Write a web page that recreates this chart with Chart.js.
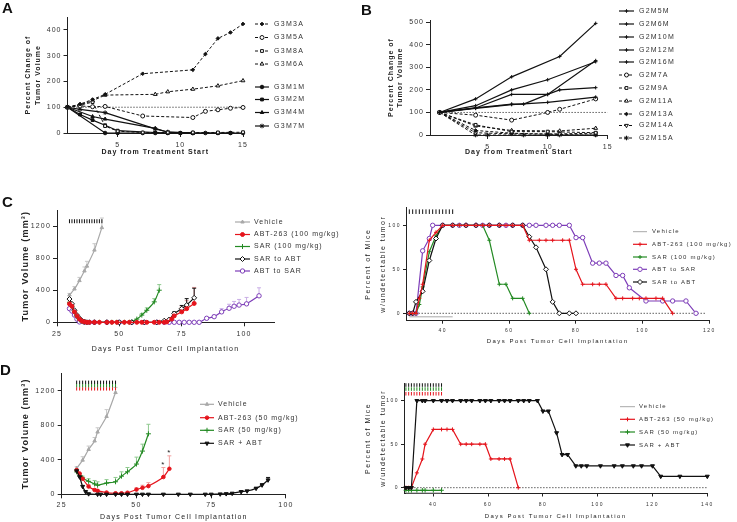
<!DOCTYPE html>
<html>
<head>
<meta charset="utf-8">
<script src="https://cdn.jsdelivr.net/npm/chart.js@4.4.1/dist/chart.umd.min.js"></script>
<style>
  body { margin: 0; background: #fff; }
  #page { position: relative; width: 737px; height: 522px; overflow: hidden; font-family: "Liberation Sans", Arial, sans-serif; }
  #page canvas { position: absolute; left: 0; top: 0; }
  .tag { position: absolute; font-weight: bold; font-size: 15px; line-height: 15px; color: #111; }
</style>
</head>
<body>
<div id="page">
  <canvas id="chartA" width="737" height="522"></canvas>
  <canvas id="chartB" width="737" height="522"></canvas>
  <canvas id="chartCL" width="737" height="522"></canvas>
  <canvas id="chartCR" width="737" height="522"></canvas>
  <canvas id="chartDL" width="737" height="522"></canvas>
  <canvas id="chartDR" width="737" height="522"></canvas>
  <div class="tag" style="left:2px;top:0px">A</div>
  <div class="tag" style="left:361px;top:2px">B</div>
  <div class="tag" style="left:2px;top:194px">C</div>
  <div class="tag" style="left:0px;top:362px">D</div>
</div>
<script>
const F = "'Liberation Sans', Arial, Helvetica, sans-serif";
const GRAY = '#a8a8a8', RED = '#e5141c', GREEN = '#238a23', PURPLE = '#7d3db8', BLACK = '#111';

// ---- panel A (G3 mice, % change) ----
const aDays3A = [1, 2, 3, 4, 7, 11, 12, 13, 14, 15];
const aVals3A = [100, 112, 130, 150, 230, 245, 306, 367, 390, 423];
const aDays5A = [1, 2, 3, 4, 7, 11, 12, 13, 14, 15];
const aVals5A = [100, 105, 102, 103, 66, 60, 84, 90, 96, 99];
const aDays8A = [1, 2, 3, 4, 5, 7, 9, 11, 13, 15];
const aVals8A = [100, 108, 120, 27, 7, 2, 2, 2, 2, 3];
const aDays6A = [1, 2, 3, 4, 8, 9, 11, 13, 15];
const aVals6A = [100, 110, 125, 147, 150, 160, 170, 183, 203];
const aDays1M = [1, 4, 5, 7, 8, 9, 10, 11, 12, 13, 14, 15];
const aVals1M = [100, 0, 0, 0, 0, 0, 0, 0, 0, 0, 0, 0];
const aDays2M = [1, 2, 3, 4, 5, 8, 9, 10, 11, 13, 14];
const aVals2M = [100, 72, 50, 30, 9, 2, 0, 0, 0, 0, 0];
const aDays4M = [1, 3, 4, 8, 9, 11];
const aVals4M = [100, 64, 54, 18, 3, 0];
const aDays7M = [1, 2, 4, 8, 9, 11];
const aVals7M = [100, 92, 79, 16, 4, 0];

// ---- panel B (G2 mice, % change) ----
const bDays5M = [1, 4, 7, 11, 14];        const bVals5M = [100, 160, 258, 348, 495];
const bDays6M = [1, 4, 7, 10, 14];        const bVals6M = [100, 130, 200, 245, 325];
const bDays10M = [1, 4, 7, 10, 11, 14];   const bVals10M = [100, 120, 180, 180, 200, 210];
const bDays12M = [1, 4, 7, 8, 10, 14];    const bVals12M = [100, 120, 137, 137, 180, 330];
const bDays16M = [1, 4, 7, 10, 14];       const bVals16M = [100, 118, 135, 145, 168];
const bDays7A = [1, 4, 7, 10, 11, 14];    const bVals7A = [100, 88, 66, 100, 114, 160];
const bDays9A = [1, 4, 7, 10, 14];        const bVals9A = [100, 45, 15, 15, 10];
const bDays11A = [1, 4, 7, 11, 14];       const bVals11A = [100, 40, 20, 18, 30];
const bDays13A = [1, 4, 7, 10, 14];       const bVals13A = [100, 20, 8, 3, 0];
const bDays14A = [1, 4, 7, 11, 14];       const bVals14A = [100, 10, 5, 5, 8];
const bDays15A = [1, 4, 5, 8, 10, 11, 14]; const bVals15A = [100, 0, 0, 0, 0, 0, 0];

const doseDays = [30, 31, 32, 33, 34, 35, 36, 37, 38, 39, 40, 41, 42, 43];

// ---- panel C left (tumor volume, 100 mg/kg) ----
const cVehDays = [30, 32, 34, 36, 37, 40, 43];
const cVehVals = [340, 415, 520, 640, 700, 900, 1180];
const cVehErr = [20, 30, 40, 50, 60, 80, 120];
const cAbtDays = [30, 31, 32, 33, 34, 35, 36, 37, 38, 40, 42, 45, 47, 49, 52, 54, 57, 59, 61, 64, 66, 68, 69, 71, 72, 75, 77, 80];
const cAbtVals = [230, 200, 130, 80, 40, 15, 5, 0, 0, 0, 0, 0, 0, 0, 0, 0, 0, 0, 0, 0, 0, 0, 5, 40, 80, 130, 170, 235];
const cAbtErr = [0, 0, 0, 0, 0, 0, 0, 0, 0, 0, 0, 0, 0, 0, 0, 0, 0, 0, 0, 0, 0, 0, 0, 20, 40, 60, 100, 200];
const cSarDays = [30, 31, 32, 33, 34, 35, 36, 38, 40, 42, 45, 47, 49, 52, 54, 55, 57, 59, 61, 64, 66];
const cSarVals = [250, 200, 130, 70, 30, 10, 0, 0, 0, 0, 0, 0, 0, 0, 0, 5, 40, 90, 150, 255, 400];
const cSarErr = [0, 0, 0, 0, 0, 0, 0, 0, 0, 0, 0, 0, 0, 0, 0, 0, 0, 20, 30, 40, 70];
const cS2aDays = [30, 31, 32, 33, 34, 35, 36, 37, 40, 45, 50, 55, 60, 65, 68, 70, 72, 75, 77, 80];
const cS2aVals = [290, 230, 150, 90, 50, 20, 10, 0, 0, 0, 0, 0, 0, 0, 20, 35, 110, 170, 215, 305];
const cS2aErr = [0, 0, 0, 0, 0, 0, 0, 0, 0, 0, 0, 0, 0, 0, 0, 0, 20, 40, 80, 120];
const cA2sDays = [30, 31, 32, 33, 34, 36, 38, 40, 45, 50, 55, 60, 65, 68, 70, 72, 74, 76, 78, 80, 82, 85, 88, 91, 94, 96, 98, 101, 106];
const cA2sVals = [170, 140, 90, 40, 5, 0, 0, 0, 0, 0, 0, 0, 0, 0, 0, 0, 0, 0, 0, 0, 0, 50, 70, 130, 175, 200, 215, 230, 330];
const cA2sErr = [0, 0, 0, 0, 0, 0, 0, 0, 0, 0, 0, 0, 0, 0, 0, 0, 0, 0, 0, 0, 0, 10, 20, 40, 50, 60, 70, 80, 100];

// ---- panel C right (% mice with undetectable tumor) ----
const crVehDays = [30, 43];  const crVehVals = [-4, -4];
const crAbtDays = [30, 31, 32, 33, 34, 36, 38, 40, 43, 45, 47, 50, 52, 54, 57, 59, 61, 64, 66, 69, 71, 73, 76, 78, 80, 82, 85, 87, 89, 92, 94, 97, 99, 101, 104, 106, 109];
const crAbtVals = [0, 0, 0, 17, 33, 83, 92, 100, 100, 100, 100, 100, 100, 100, 100, 100, 100, 100, 83, 83, 83, 83, 83, 83, 50, 33, 33, 33, 33, 17, 17, 17, 17, 17, 17, 17, 0];
const crSarDays = [30, 31, 32, 33, 34, 36, 38, 40, 43, 45, 47, 50, 52, 54, 57, 59, 61, 64, 66];
const crSarVals = [0, 0, 0, 10, 30, 70, 88, 100, 100, 100, 100, 100, 100, 83, 33, 33, 17, 17, 0];
const crA2sDays = [30, 31, 32, 34, 36, 37, 40, 43, 45, 47, 50, 52, 54, 57, 59, 61, 64, 66, 68, 71, 73, 75, 78, 80, 82, 85, 87, 89, 92, 94, 96, 101, 106, 109, 113, 116];
const crA2sVals = [0, 0, 0, 71, 85, 100, 100, 100, 100, 100, 100, 100, 100, 100, 100, 100, 100, 100, 100, 100, 100, 100, 100, 86, 86, 57, 57, 57, 43, 43, 29, 14, 14, 14, 14, 0];
const crS2aDays = [30, 31, 32, 34, 36, 38, 40, 43, 47, 50, 54, 57, 61, 64, 66, 68, 71, 73, 75, 78, 80];
const crS2aVals = [0, 0, 13, 25, 60, 85, 100, 100, 100, 100, 100, 100, 100, 100, 87, 75, 50, 13, 0, 0, 0];

// ---- panel D left (tumor volume, 50 mg/kg) ----
const dVehDays = [30, 32, 34, 36, 37, 40, 43];
const dVehVals = [300, 395, 518, 617, 720, 900, 1177];
const dVehErr = [20, 40, 40, 40, 50, 80, 60];
const dAbtDays = [30, 31, 32, 34, 36, 37, 40, 43, 45, 47, 50, 52, 54, 59, 61];
const dAbtVals = [280, 240, 180, 90, 50, 40, 20, 12, 12, 18, 55, 75, 95, 200, 295];
const dAbtErr = [0, 0, 0, 20, 15, 15, 10, 10, 10, 10, 20, 30, 40, 110, 150];
const dSarDays = [30, 31, 32, 34, 36, 37, 40, 43, 45, 47, 50, 52, 54];
const dSarVals = [260, 220, 190, 150, 120, 105, 130, 145, 210, 260, 350, 500, 700];
const dSarErr = [20, 20, 20, 30, 40, 40, 40, 50, 50, 50, 80, 80, 110];
const dComboDays = [30, 31, 32, 33, 34, 37, 38, 40, 43, 45, 47, 50, 52, 54, 59, 64, 68, 73, 75, 78, 80, 82, 85, 87, 90, 92, 94];
const dComboVals = [270, 200, 90, 30, 5, 0, 0, 0, 0, 0, 0, 0, 0, 0, 0, 0, 0, 0, 0, 3, 6, 11, 30, 38, 69, 107, 165];
const dComboErr = [0, 0, 0, 0, 0, 0, 0, 0, 0, 0, 0, 0, 0, 0, 0, 0, 0, 0, 0, 0, 0, 0, 0, 0, 10, 15, 30];

// ---- panel D right (% mice with undetectable tumor) ----
const drVehDays = [30, 43];  const drVehVals = [-6, -6];
const drAbtDays = [30, 31, 32, 34, 36, 37, 40, 43, 45, 47, 50, 52, 54, 57, 59, 61, 64, 66, 68, 71];
const drAbtVals = [0, 0, 0, 17, 33, 50, 67, 67, 67, 67, 50, 50, 50, 50, 50, 33, 33, 33, 33, 0];
const drSarDays = [30, 31, 32, 34, 36, 37, 40, 43];
const drSarVals = [-3, -3, -3, -3, -3, -3, -3, -3];
const drComboDays = [30, 31, 32, 34, 36, 37, 40, 43, 45, 47, 50, 52, 54, 57, 59, 61, 64, 66, 68, 71, 73, 75, 78, 80, 82, 85, 87, 89, 92, 94, 96, 101, 106, 109, 113, 116, 120, 123, 130, 140];
const drComboVals = [0, 0, 0, 100, 100, 100, 100, 100, 100, 100, 100, 100, 100, 100, 100, 100, 100, 100, 100, 100, 100, 100, 100, 88, 88, 63, 38, 38, 25, 25, 25, 25, 25, 25, 25, 25, 25, 13, 13, 13];

// ---------------- plugins ----------------
const spacingPlugin = {
  id: 'spacing',
  beforeLayout(chart, args, opts) { chart.ctx.letterSpacing = opts.ls || '0px'; },
  beforeDraw(chart, args, opts) { chart.ctx.letterSpacing = opts.ls || '0px'; }
};

const errPlugin = {
  id: 'errbars',
  beforeDatasetsDraw(chart) {
    const ctx = chart.ctx, xs = chart.scales.x, ys = chart.scales.y;
    chart.data.datasets.forEach(ds => {
      if (!ds.err) return;
      ctx.save();
      ctx.strokeStyle = ds.errColor || ds.borderColor;
      ctx.lineWidth = 1;
      ds.data.forEach((p, i) => {
        const e = ds.err[i];
        if (!e) return;
        const x = xs.getPixelForValue(p.x);
        const y0 = ys.getPixelForValue(p.y);
        const y1 = ys.getPixelForValue(p.y + e);
        ctx.beginPath();
        ctx.moveTo(x, y0); ctx.lineTo(x, y1);
        ctx.moveTo(x - 2, y1); ctx.lineTo(x + 2, y1);
        ctx.stroke();
        if (ds.stars && ds.stars.includes(i)) {
          ctx.font = '8px ' + F;
          ctx.fillStyle = '#222';
          ctx.textAlign = 'center';
          ctx.fillText('*', x, y1 - 1);
        }
      });
      ctx.restore();
    });
  }
};

const legendPlugin = {
  id: 'sideLegend',
  afterDraw(chart, args, opts) {
    if (!opts || !opts.ys) return;
    const ctx = chart.ctx;
    chart.data.datasets.forEach(ds => {
      if (ds.leg === undefined) return;
      const y = opts.ys[ds.leg];
      ctx.save();
      ctx.strokeStyle = ds.borderColor;
      ctx.lineWidth = ds.borderWidth;
      ctx.setLineDash(ds.borderDash || []);
      ctx.beginPath();
      ctx.moveTo(opts.x0, y); ctx.lineTo(opts.x1, y);
      ctx.stroke();
      ctx.setLineDash([]);
      if (ds.pointRadius > 0) {
        ctx.fillStyle = ds.pointBackgroundColor;
        ctx.strokeStyle = ds.pointBorderColor;
        ctx.lineWidth = 1;
        Chart.helpers.drawPoint(ctx, { pointStyle: ds.pointStyle, radius: ds.pointRadius, rotation: ds.pointRotation || 0, borderWidth: 1 }, (opts.x0 + opts.x1) / 2, y);
      }
      ctx.fillStyle = '#333';
      ctx.font = opts.font;
      ctx.letterSpacing = opts.ls;
      ctx.textBaseline = 'middle';
      ctx.textAlign = 'left';
      ctx.fillText(ds.label, opts.tx, y);
      ctx.restore();
    });
  }
};

Chart.register(spacingPlugin, errPlugin, legendPlugin);

// ---------------- helpers ----------------
function series(label, days, vals, st) {
  st = st || {};
  const c = st.color || BLACK;
  const ds = {
    label: label,
    data: days.map((d, i) => ({ x: d, y: vals[i] })),
    borderColor: c,
    pointBorderColor: c,
    pointBackgroundColor: st.open ? '#fff' : c,
    borderWidth: 1,
    pointRadius: 2,
    pointBorderWidth: 1,
    pointStyle: 'circle',
    tension: 0,
    clip: false
  };
  return Object.assign(ds, st);
}

function doses(level, color, r) {
  return series('', doseDays, doseDays.map(() => level), { color: color, showLine: false, pointStyle: 'line', pointRotation: 90, pointRadius: r, order: 9 });
}

function dotted(x0, x1, y) {
  return series('', [x0, x1], [y, y], { pointRadius: 0, borderDash: [1, 2], borderWidth: 1, order: 10 });
}

function frame(p) {
  const tick = { family: F, size: p.tf };
  return {
    responsive: false, animation: false, events: [],
    layout: { padding: { left: p.l - p.yW, top: p.t, right: 737 - p.r, bottom: 522 - p.b - p.xH } },
    plugins: { legend: { display: false }, tooltip: { enabled: false }, sideLegend: p.legend, spacing: { ls: p.ls } },
    scales: {
      x: {
        type: 'linear', min: p.xmin, max: p.xmax,
        afterFit: s => { s.height = p.xH; },
        afterBuildTicks: s => { s.ticks = p.xt.map(v => ({ value: v })); },
        grid: { drawOnChartArea: false, tickLength: p.tl, color: '#222' },
        border: { color: '#222', width: 1 },
        ticks: { font: tick, color: '#333', padding: p.xPad, maxRotation: 0, autoSkip: false, callback: v => String(v) },
        title: { display: true, text: p.xTitle, color: '#222', font: p.xFont, padding: { top: 0, bottom: 1 } }
      },
      y: {
        type: 'linear', min: p.ymin, max: p.ymax,
        afterFit: s => { s.width = p.yW; },
        afterBuildTicks: s => { s.ticks = p.yt.map(v => ({ value: v })); },
        grid: { drawOnChartArea: false, tickLength: p.tl, color: '#222' },
        border: { color: '#222', width: 1 },
        ticks: { font: tick, color: '#333', padding: p.yPad, autoSkip: false, callback: v => String(v) },
        title: { display: true, text: p.yTitle, color: '#222', font: p.yFont, padding: { top: 1, bottom: 0 } }
      }
    }
  };
}

const DASH = [3, 2];

// ---------------- A ----------------
new Chart(document.getElementById('chartA'), {
  type: 'line',
  data: { datasets: [
    series('G3M3A', aDays3A, aVals3A, { borderDash: DASH, pointStyle: 'rectRot', pointRadius: 1.8, leg: 0 }),
    series('G3M5A', aDays5A, aVals5A, { borderDash: DASH, open: true, pointRadius: 2, leg: 1 }),
    series('G3M8A', aDays8A, aVals8A, { borderDash: DASH, open: true, pointStyle: 'rect', pointRadius: 2, leg: 2 }),
    series('G3M6A', aDays6A, aVals6A, { borderDash: DASH, open: true, pointStyle: 'triangle', pointRadius: 2.2, leg: 3 }),
    series('G3M1M', aDays1M, aVals1M, { pointRadius: 1.8, borderWidth: 1.2, leg: 4 }),
    series('G3M2M', aDays2M, aVals2M, { pointStyle: 'rect', pointRadius: 2, borderWidth: 1.2, leg: 5 }),
    series('G3M4M', aDays4M, aVals4M, { pointStyle: 'triangle', pointRadius: 2, borderWidth: 1.2, leg: 6 }),
    series('G3M7M', aDays7M, aVals7M, { pointStyle: 'star', pointRadius: 2.3, borderWidth: 1.2, leg: 7 }),
    dotted(1, 15, 100)
  ] },
  options: frame({
    l: 67.5, t: 17, r: 243, b: 133, yW: 45.5, xH: 24,
    xmin: 1, xmax: 15, ymin: 0, ymax: 450, xt: [5, 10, 15], yt: [0, 100, 200, 300, 400],
    tf: 7, tl: 4, xPad: 4, yPad: 2, ls: '1px',
    xTitle: 'Day from Treatment Start', xFont: { family: F, size: 7, weight: 'bold' },
    yTitle: ['Percent Change of', 'Tumor Volume'], yFont: { family: F, size: 7, weight: 'bold', lineHeight: '10px' },
    legend: { x0: 255, x1: 269, tx: 274, ys: [24, 37.5, 51, 64, 87, 99.5, 112.5, 126], font: '7px ' + F, ls: '1.3px' }
  })
});

// ---------------- B ----------------
new Chart(document.getElementById('chartB'), {
  type: 'line',
  data: { datasets: [
    series('G2M5M', bDays5M, bVals5M, { pointStyle: 'cross', pointRadius: 1.8, borderWidth: 1.2, leg: 0 }),
    series('G2M6M', bDays6M, bVals6M, { pointStyle: 'cross', pointRadius: 1.8, borderWidth: 1.2, leg: 1 }),
    series('G2M10M', bDays10M, bVals10M, { pointStyle: 'cross', pointRadius: 1.8, borderWidth: 1.2, leg: 2 }),
    series('G2M12M', bDays12M, bVals12M, { pointStyle: 'cross', pointRadius: 1.8, borderWidth: 1.2, leg: 3 }),
    series('G2M16M', bDays16M, bVals16M, { pointStyle: 'cross', pointRadius: 1.8, borderWidth: 1.2, leg: 4 }),
    series('G2M7A', bDays7A, bVals7A, { borderDash: DASH, open: true, pointRadius: 2, leg: 5 }),
    series('G2M9A', bDays9A, bVals9A, { borderDash: DASH, open: true, pointStyle: 'rect', pointRadius: 2, leg: 6 }),
    series('G2M11A', bDays11A, bVals11A, { borderDash: DASH, open: true, pointStyle: 'triangle', pointRadius: 2.2, leg: 7 }),
    series('G2M13A', bDays13A, bVals13A, { borderDash: DASH, pointStyle: 'rectRot', pointRadius: 1.8, leg: 8 }),
    series('G2M14A', bDays14A, bVals14A, { borderDash: DASH, open: true, pointStyle: 'triangle', pointRotation: 180, pointRadius: 2.2, leg: 9 }),
    series('G2M15A', bDays15A, bVals15A, { borderDash: DASH, pointStyle: 'star', pointRadius: 2.3, leg: 10 }),
    dotted(1, 15, 100)
  ] },
  options: frame({
    l: 430, t: 20, r: 607.7, b: 135, yW: 44, xH: 22,
    xmin: 0.2, xmax: 15, ymin: 0, ymax: 510, xt: [5, 10, 15], yt: [0, 100, 200, 300, 400, 500],
    tf: 7, tl: 4, xPad: 4, yPad: 2, ls: '1px',
    xTitle: 'Day from Treatment Start', xFont: { family: F, size: 7, weight: 'bold' },
    yTitle: ['Percent Change of', 'Tumor Volume'], yFont: { family: F, size: 7, weight: 'bold', lineHeight: '9px' },
    legend: { x0: 619, x1: 634, tx: 639, ys: [11, 24, 37, 50, 62, 75, 88, 101, 114, 125.5, 138], font: '7px ' + F, ls: '1.2px' }
  })
});

// ---------------- C left ----------------
new Chart(document.getElementById('chartCL'), {
  type: 'line',
  data: { datasets: [
    series('ABT-263 (100 mg/kg)', cAbtDays, cAbtVals, { color: RED, err: cAbtErr, errColor: '#f2a0a0', pointRadius: 2, borderWidth: 1.2, tension: 0.2, leg: 1, order: 1 }),
    series('SAR to ABT', cS2aDays, cS2aVals, { open: true, pointStyle: 'rectRot', pointRadius: 2.5, err: cS2aErr, borderWidth: 1.2, tension: 0.2, leg: 3, order: 2 }),
    series('SAR (100 mg/kg)', cSarDays, cSarVals, { color: GREEN, pointStyle: 'cross', pointRadius: 2.5, err: cSarErr, errColor: '#8fc98f', borderWidth: 1.2, tension: 0.2, leg: 2, order: 3 }),
    series('ABT to SAR', cA2sDays, cA2sVals, { color: PURPLE, open: true, pointRadius: 2.2, err: cA2sErr, errColor: '#c9aee6', borderWidth: 1.2, tension: 0.2, leg: 4, order: 4 }),
    series('Vehicle', cVehDays, cVehVals, { color: GRAY, pointStyle: 'triangle', pointRadius: 2, err: cVehErr, errColor: '#c8c8c8', borderWidth: 1.2, tension: 0.2, leg: 0, order: 5 }),
    doses(1260, BLACK, 2)
  ] },
  options: frame({
    l: 57, t: 210, r: 274, b: 322.3, yW: 38, xH: 32,
    xmin: 25, xmax: 112, ymin: 0, ymax: 1400, xt: [25, 50, 75, 100], yt: [0, 400, 800, 1200],
    tf: 7, tl: 4, xPad: 4, yPad: 2, ls: '1.2px',
    xTitle: 'Days Post Tumor Cell Implantation', xFont: { family: F, size: 7 },
    yTitle: 'Tumor Volume (mm\u00B3)', yFont: { family: F, size: 9, weight: 'bold' },
    legend: { x0: 235, x1: 250, tx: 254, ys: [222, 234.5, 246.5, 259, 271], font: '7px ' + F, ls: '1px' }
  })
});

// ---------------- C right ----------------
new Chart(document.getElementById('chartCR'), {
  type: 'line',
  data: { datasets: [
    series('Vehicle', crVehDays, crVehVals, { color: GRAY, pointRadius: 0, leg: 0, order: 6 }),
    series('ABT-263 (100 mg/kg)', crAbtDays, crAbtVals, { color: RED, pointStyle: 'cross', pointRadius: 2, borderWidth: 1.2, leg: 1, order: 1 }),
    series('SAR (100 mg/kg)', crSarDays, crSarVals, { color: GREEN, pointStyle: 'cross', pointRadius: 2, borderWidth: 1.2, leg: 2, order: 3 }),
    series('ABT to SAR', crA2sDays, crA2sVals, { color: PURPLE, open: true, pointRadius: 2.2, borderWidth: 1.2, leg: 3, order: 4 }),
    series('SAR to ABT', crS2aDays, crS2aVals, { open: true, pointStyle: 'rectRot', pointRadius: 2.5, borderWidth: 1.2, leg: 4, order: 2 }),
    dotted(31, 119, 0),
    doses(115.5, BLACK, 2.3)
  ] },
  options: frame({
    l: 406, t: 207.7, r: 709.3, b: 320.7, yW: 46, xH: 25.6,
    xmin: 29, xmax: 120, ymin: -8.4, ymax: 120, xt: [40, 60, 80, 100, 120], yt: [0, 50, 100],
    tf: 5, tl: 3, xPad: 4, yPad: 2, ls: '1.5px',
    xTitle: 'Days Post Tumor Cell Implantation', xFont: { family: F, size: 6 },
    yTitle: ['Percent of Mice', 'w/undetectable tumor'], yFont: { family: F, size: 7, lineHeight: '15px' },
    legend: { x0: 633, x1: 647, tx: 652, ys: [231.7, 244.3, 257, 269.3, 282], font: '6px ' + F, ls: '1.2px' }
  })
});

// ---------------- D left ----------------
new Chart(document.getElementById('chartDL'), {
  type: 'line',
  data: { datasets: [
    series('SAR + ABT', dComboDays, dComboVals, { pointStyle: 'triangle', pointRotation: 180, pointRadius: 2.3, err: dComboErr, borderWidth: 1.2, tension: 0.2, leg: 3, order: 1 }),
    series('ABT-263 (50 mg/kg)', dAbtDays, dAbtVals, { color: RED, pointRadius: 1.8, err: dAbtErr, errColor: '#f2a0a0', stars: [13, 14], borderWidth: 1.2, tension: 0.2, leg: 1, order: 2 }),
    series('SAR (50 mg/kg)', dSarDays, dSarVals, { color: GREEN, pointStyle: 'cross', pointRadius: 2.5, err: dSarErr, errColor: '#8fc98f', borderWidth: 1.2, tension: 0.2, leg: 2, order: 3 }),
    series('Vehicle', dVehDays, dVehVals, { color: GRAY, pointStyle: 'triangle', pointRadius: 2, err: dVehErr, errColor: '#c8c8c8', borderWidth: 1.2, tension: 0.2, leg: 0, order: 4 }),
    doses(1296, BLACK, 1.7),
    doses(1258, GREEN, 1.7),
    doses(1220, RED, 1.7)
  ] },
  options: frame({
    l: 61.7, t: 373.3, r: 286, b: 494.3, yW: 42.7, xH: 27.7,
    xmin: 25, xmax: 100, ymin: 0, ymax: 1400, xt: [25, 50, 75, 100], yt: [0, 400, 800, 1200],
    tf: 7, tl: 4, xPad: 3, yPad: 2, ls: '1.2px',
    xTitle: 'Days Post Tumor Cell Implantation', xFont: { family: F, size: 7 },
    yTitle: 'Tumor Volume (mm\u00B3)', yFont: { family: F, size: 9, weight: 'bold' },
    legend: { x0: 200, x1: 214, tx: 218, ys: [404.3, 417.7, 430.3, 443.3], font: '7px ' + F, ls: '1px' }
  })
});

// ---------------- D right ----------------
new Chart(document.getElementById('chartDR'), {
  type: 'line',
  data: { datasets: [
    series('Vehicle', drVehDays, drVehVals, { color: GRAY, pointRadius: 0, leg: 0, order: 5 }),
    series('ABT-263 (50 mg/kg)', drAbtDays, drAbtVals, { color: RED, pointStyle: 'cross', pointRadius: 2, borderWidth: 1.2, leg: 1, order: 2 }),
    series('SAR (50 mg/kg)', drSarDays, drSarVals, { color: GREEN, pointStyle: 'cross', pointRadius: 2.3, borderWidth: 1.2, leg: 2, order: 3 }),
    series('SAR + ABT', drComboDays, drComboVals, { pointStyle: 'triangle', pointRotation: 180, pointRadius: 2.3, borderWidth: 1.2, leg: 3, order: 1 }),
    dotted(32, 140, 0),
    doses(118, BLACK, 1.8),
    doses(113.4, GREEN, 1.8),
    doses(108, RED, 1.8)
  ] },
  options: frame({
    l: 404, t: 383.3, r: 707.3, b: 493.5, yW: 44.2, xH: 27.8,
    xmin: 29.3, xmax: 140, ymin: -6.7, ymax: 120, xt: [40, 60, 80, 100, 120, 140], yt: [0, 50, 100],
    tf: 5, tl: 3, xPad: 5, yPad: 2, ls: '1.5px',
    xTitle: 'Days Post Tumor Cell Implantation', xFont: { family: F, size: 6 },
    yTitle: ['Percent of Mice', 'w/undetectable tumor'], yFont: { family: F, size: 7, lineHeight: '15px' },
    legend: { x0: 620, x1: 635, tx: 639, ys: [406.7, 419.3, 432, 445], font: '6px ' + F, ls: '1.2px' }
  })
});
</script>
</body>
</html>
